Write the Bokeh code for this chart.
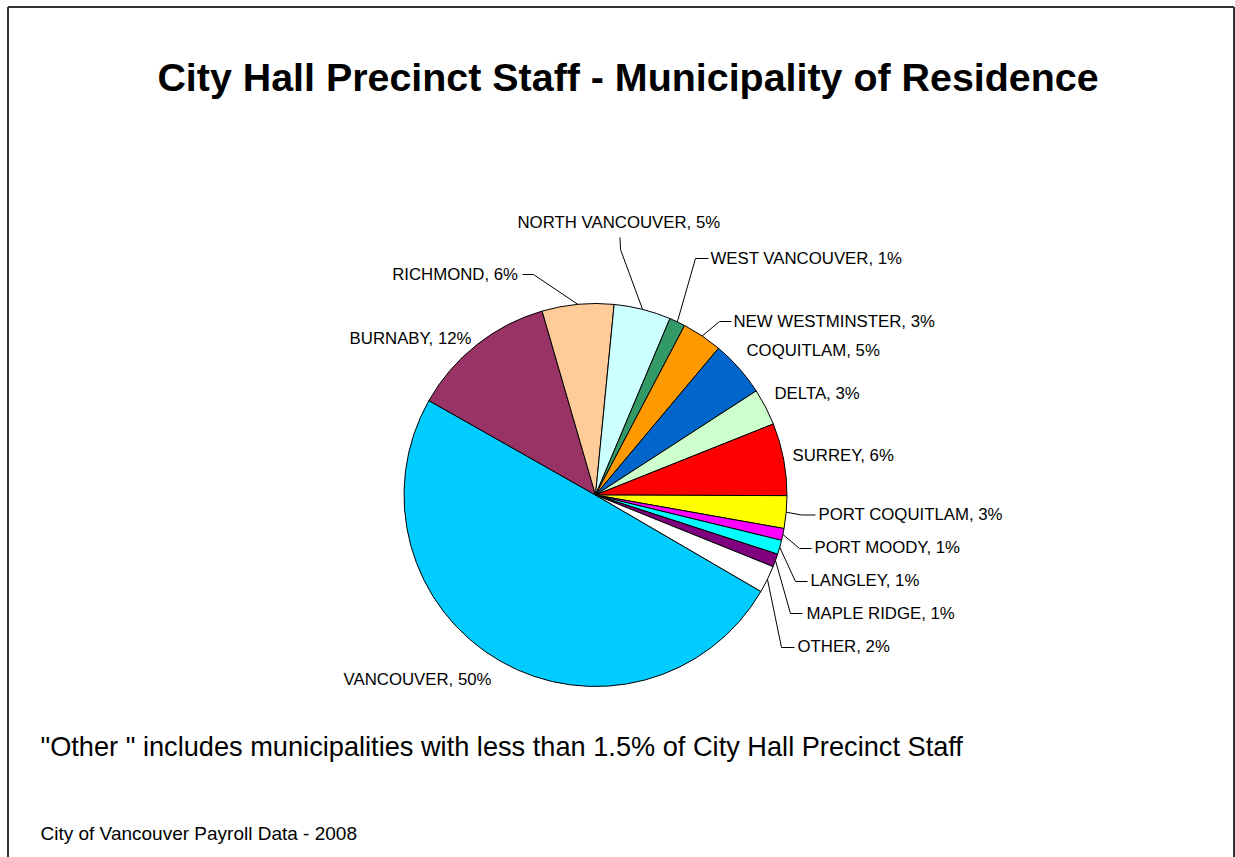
import numpy as np
from bokeh.plotting import figure
from bokeh.models import Range1d, ColumnDataSource
from bokeh.core.properties import value
from bokeh.embed import file_html
from bokeh.resources import INLINE

# ---------------- data ----------------
municipalities = ["VANCOUVER", "BURNABY", "RICHMOND", "NORTH VANCOUVER", "WEST VANCOUVER",
                  "NEW WESTMINSTER", "COQUITLAM", "DELTA", "SURREY", "PORT COQUITLAM",
                  "PORT MOODY", "LANGLEY", "MAPLE RIDGE", "OTHER"]
shares = [49.8, 12.3, 6.05, 4.8, 1.35, 3.4, 4.75, 3.1, 6.1, 2.75, 1.0, 1.2, 1.1, 2.3]
shown_percent = [50, 12, 6, 5, 1, 3, 5, 3, 6, 3, 1, 1, 1, 2]
colors = ["#00CCFF", "#993366", "#FFCC99", "#CCFFFF", "#339966", "#FF9900", "#0066CC",
          "#CCFFCC", "#FF0000", "#FFFF00", "#FF00FF", "#00FFFF", "#800080", "#FFFFFF"]

title = "City Hall Precinct Staff - Municipality of Residence"
note = "\"Other \" includes municipalities with less than 1.5% of City Hall Precinct Staff"
source_note = "City of Vancouver Payroll Data - 2008"

# ---------------- layout (pixel space, y down) ----------------
W, H = 1235, 857
CX, CY, R = 595.0, 494.5, 191.5
FIRST_START_DEG = 120.25  # clockwise from 12 o'clock

# label text anchor (x, middle y, align) and leader elbow points
label_pos = {
    "VANCOUVER": (343, 679, "left", None),
    "BURNABY": (471, 337.5, "right", None),
    "RICHMOND": (517.5, 274, "right", [(533, 274), (522, 274)]),
    "NORTH VANCOUVER": (517, 222, "left", [(620, 249), (619.5, 237)]),
    "WEST VANCOUVER": (710, 258, "left", [(695, 258), (708, 258)]),
    "NEW WESTMINSTER": (733, 321, "left", [(719, 321), (731, 321)]),
    "COQUITLAM": (746, 350, "left", None),
    "DELTA": (774, 393, "left", None),
    "SURREY": (792, 454.5, "left", None),
    "PORT COQUITLAM": (818, 514, "left", [(801, 514.5), (815, 514.5)]),
    "PORT MOODY": (814, 547, "left", [(799, 548), (811, 548)]),
    "LANGLEY": (810, 580, "left", [(795, 581), (807, 581)]),
    "MAPLE RIDGE": (806, 612.5, "left", [(790, 613), (802, 613)]),
    "OTHER": (797, 646, "left", [(781, 647), (794, 647)]),
}

def fy(y):
    return H - y

p = figure(width=W, height=H, output_backend="svg", toolbar_location=None,
           x_range=Range1d(0, W), y_range=Range1d(0, H), min_border=0)
p.axis.visible = False
p.grid.visible = False
p.outline_line_color = None
p.background_fill_color = "white"
p.border_fill_color = "white"

# outer border
p.multi_line(xs=[[7.5, 7.5], [7.5, 1233.5], [1233.5, 1233.5]],
             ys=[[fy(870), fy(6.5)], [fy(6.5), fy(6.5)], [fy(6.5), fy(870)]],
             line_color="#333333", line_width=2)

# pie
vals = np.array(shares, dtype=float)
frac = vals / vals.sum()
c_end = FIRST_START_DEG + np.cumsum(frac) * 360.0
c_start = c_end - frac * 360.0
start_rad = np.deg2rad(90.0 - c_start)
end_rad = np.deg2rad(90.0 - c_end)
src = ColumnDataSource(dict(start=start_rad, end=end_rad, color=colors,
                            name=municipalities))
p.wedge(x=CX, y=fy(CY), radius=R, start_angle="start", end_angle="end",
        direction="clock", fill_color="color", line_color="black", line_width=1,
        source=src)

# labels and leaders
mid = np.deg2rad((c_start + c_end) / 2.0)
lx, ly, lt, la = [], [], [], []
lxs, lys = [], []
for i, name in enumerate(municipalities):
    tx, ty, align, elbow = label_pos[name]
    lx.append(tx)
    ly.append(fy(ty))
    la.append(align)
    lt.append(f"{name}, {shown_percent[i]}%")
    if elbow:
        ex = CX + R * np.sin(mid[i])
        ey = CY - R * np.cos(mid[i])
        pts = [(ex, ey)] + elbow
        lxs.append([q[0] for q in pts])
        lys.append([fy(q[1]) for q in pts])

p.multi_line(xs=lxs, ys=lys, line_color="black", line_width=1)
lab_src = ColumnDataSource(dict(x=lx, y=ly, text=lt, align=la))
p.text(x="x", y="y", text="text", text_align="align", source=lab_src,
       text_font=value("Liberation Sans"), text_font_size="16.8px",
       text_baseline="middle", text_color="black")

# title and notes
p.text(x=[627.5], y=[fy(76)], text=[title], text_font=value("Liberation Sans"),
       text_font_size="39.4px", text_font_style="bold", text_align="center",
       text_baseline="middle", text_color="black")
p.text(x=[40], y=[fy(746)], text=[note], text_font=value("Liberation Sans"),
       text_font_size="27.2px", text_align="left", text_baseline="middle",
       text_color="black")
p.text(x=[40], y=[fy(833)], text=[source_note], text_font=value("Liberation Sans"),
       text_font_size="19px", text_align="left", text_baseline="middle",
       text_color="black")

open("out.html", "w").write(file_html(p, INLINE))
